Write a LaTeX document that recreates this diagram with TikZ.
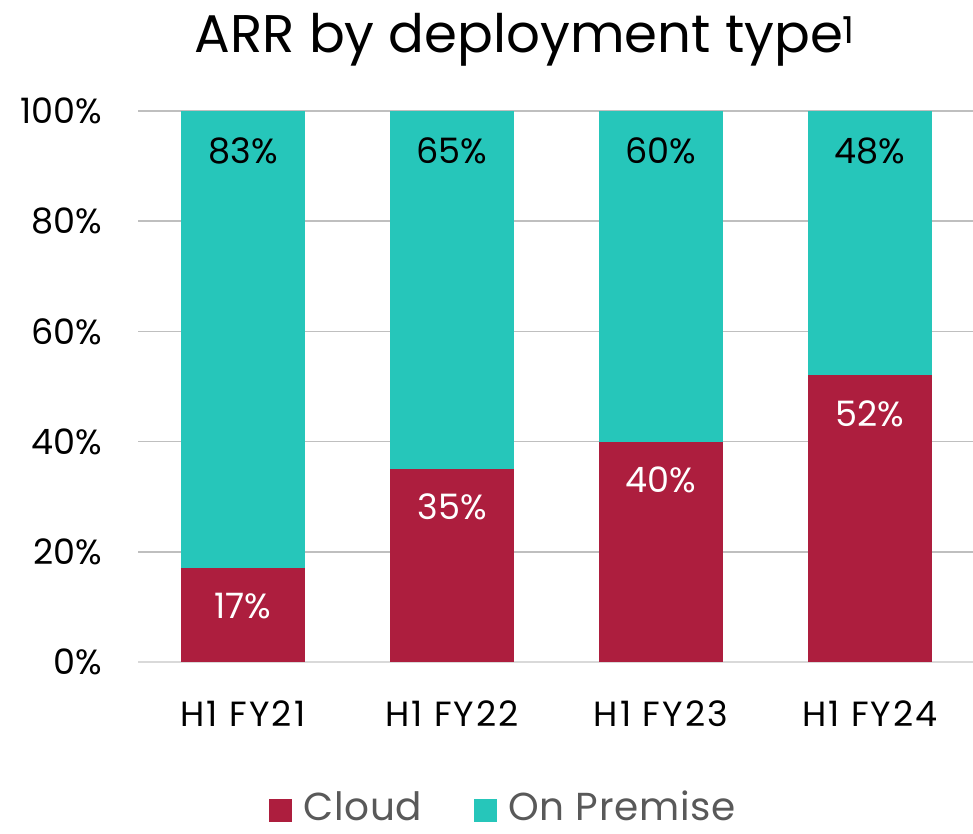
\documentclass[tikz,border=0pt]{standalone}
\usepackage{fontspec}
\setmainfont{Poppins}
\definecolor{cloud}{HTML}{AD1E3E}
\definecolor{prem}{HTML}{26C6BA}
\definecolor{grid}{HTML}{BFBFBF}
\definecolor{legtext}{HTML}{595959}
\begin{document}
\begin{tikzpicture}[x=1pt,y=-1pt,
  gridline/.style={draw=grid,line width=1.5pt},
  ylab/.style={anchor=east,inner sep=0pt,font=\fontsize{35}{40}\selectfont},
  xlab/.style={anchor=center,inner sep=0pt,font=\fontsize{35}{40}\selectfont\addfontfeatures{LetterSpace=6}},
  barlab/.style={anchor=center,inner sep=0pt,font=\fontsize{35}{40}\selectfont},
  legtxt/.style={anchor=west,inner sep=0pt,text=legtext,font=\fontsize{39}{44}\selectfont\addfontfeatures{LetterSpace=2}}]
\useasboundingbox (0,0) rectangle (973,833);
% gridlines
\foreach \v in {0,20,40,60,80,100}{
  \pgfmathsetmacro{\yy}{662-5.51*\v}
  \draw[gridline] (138,\yy) -- (973,\yy);
  \node[ylab] (y\v) at (102,\yy) {\v\%};
}
\draw[draw=black!15,line width=1.5pt] (138,662) -- (973,662);
% bars
\foreach \i/\c/\xl/\cat in {1/17/181/H1 FY21,2/35/390/H1 FY22,3/40/599/H1 FY23,4/52/808/H1 FY24}{
  \pgfmathsetmacro{\top}{662-5.51*\c}
  \pgfmathsetmacro{\xr}{\xl+124}
  \pgfmathsetmacro{\xc}{\xl+62}
  \pgfmathtruncatemacro{\p}{100-\c}
  \fill[prem] (\xl,111) rectangle (\xr,\top);
  \fill[cloud] (\xl,\top) rectangle (\xr,662);
  \node[barlab,text=black] (p\i) at (\xc,151) {\p\%};
  \pgfmathsetmacro{\ly}{\top+38}
  \node[barlab,text=white] (c\i) at (\xc,\ly) {\c\%};
  \node[xlab] (x\i) at (\xc,714) {\cat};
}
% title
\node[anchor=center,inner sep=0pt,font=\fontsize{53}{60}\selectfont] (title) at (525,40) {ARR by deployment type\textsuperscript{1}};
% legend
\fill[cloud] (269,799) rectangle (292,822);
\node[legtxt] (lcloud) at (303,806) {Cloud};
\fill[prem] (474,799) rectangle (497,822);
\node[legtxt] (lprem) at (508,806) {On Premise};
\end{tikzpicture}
\end{document}
